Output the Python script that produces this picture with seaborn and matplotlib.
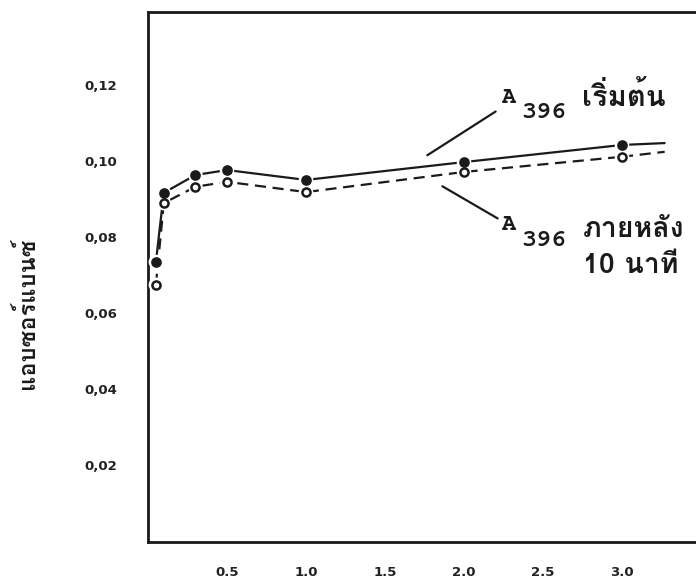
import matplotlib
matplotlib.use("Agg")
import matplotlib.pyplot as plt
from matplotlib import font_manager
from matplotlib.ft2font import FT2Font
import seaborn as sns
import pandas as pd

# ---------------- data ----------------
x_values = [0.05, 0.1, 0.3, 0.5, 1.0, 2.0, 3.0]
a396_start = [0.0734, 0.0916, 0.0963, 0.0976, 0.0950, 0.0997, 0.1042]
a396_after10 = [0.0674, 0.0889, 0.0932, 0.0945, 0.0918, 0.0971, 0.1011]
tail_x = [3.0, 3.27]
tail_start = [0.1042, 0.1047]
tail_after10 = [0.1011, 0.1024]
x_ticks = [0.5, 1.0, 1.5, 2.0, 2.5, 3.0]
x_ticklabels = ["0.5", "1.0", "1.5", "2.0", "2.5", "3.0"]
y_ticks = [0.02, 0.04, 0.06, 0.08, 0.10, 0.12]
y_ticklabels = ["0,02", "0,04", "0,06", "0,08", "0,10", "0,12"]
y_label = "แอบซอร์แบนซ์"
label_start = "เริ่มต้น"
label_after1 = "ภายหลัง"
label_after2 = "10 นาที"


def find_thai_fonts():
    found = []
    seen = set()
    for f in font_manager.fontManager.ttflist:
        if f.name in seen:
            continue
        try:
            cm = FT2Font(f.fname).get_charmap()
            if 0x0E40 in cm and 0x0E19 in cm:
                found.append(f.name)
                seen.add(f.name)
        except Exception:
            pass
    return found


thai_fonts = find_thai_fonts()
prefs = ["Tlwg Typewriter", "TlwgTypewriter", "Tlwg Typo", "TlwgTypo", "Tlwg Mono",
         "FreeMono", "Loma", "Noto Sans Thai", "Garuda", "Norasi",
         "Kinnari", "Waree", "Umpush", "Sawasdee", "Purisa"]
thai = None
for p in prefs:
    if p in thai_fonts:
        thai = p
        break
if thai is None and thai_fonts:
    thai = thai_fonts[0]
thai_family = [thai, "DejaVu Sans"] if thai else ["DejaVu Sans"]

sns.set_style("white")
plt.rcParams["font.family"] = thai_family

W, H = 696, 586
fig = plt.figure(figsize=(W / 100, H / 100), dpi=100)
ax = fig.add_axes([148 / W, 44 / H, 3.5 * 158 / W, 530 / H])

ink = "#1a1a1a"

df_start = pd.DataFrame({"x": x_values, "y": a396_start})
df_after = pd.DataFrame({"x": x_values, "y": a396_after10})
df_tail_s = pd.DataFrame({"x": tail_x, "y": tail_start})
df_tail_a = pd.DataFrame({"x": tail_x, "y": tail_after10})

sns.lineplot(data=df_start, x="x", y="y", ax=ax, color=ink, lw=1.6, zorder=2)
sns.lineplot(data=df_after, x="x", y="y", ax=ax, color=ink, lw=1.6,
             linestyle=(0, (5, 3)), zorder=2)
sns.lineplot(data=df_tail_s, x="x", y="y", ax=ax, color=ink, lw=1.6, zorder=2)
sns.lineplot(data=df_tail_a, x="x", y="y", ax=ax, color=ink, lw=1.6,
             linestyle=(0, (5, 3)), zorder=2)

sns.scatterplot(data=df_start, x="x", y="y", ax=ax, s=110, color="white",
                edgecolor="none", zorder=3)
sns.scatterplot(data=df_after, x="x", y="y", ax=ax, s=110, color="white",
                edgecolor="none", zorder=3)
sns.scatterplot(data=df_start, x="x", y="y", ax=ax, s=42, color=ink,
                edgecolor=ink, linewidth=1.2, zorder=4)
sns.scatterplot(data=df_after, x="x", y="y", ax=ax, s=34, color="white",
                edgecolor=ink, linewidth=1.8, zorder=4)

ax.set_xlim(0, 3.5)
ax.set_ylim(-0.0003, 0.1392)
ax.set_xticks(x_ticks)
ax.set_xticklabels(x_ticklabels)
ax.set_yticks(y_ticks)
ax.set_yticklabels(y_ticklabels)
ax.set_xlabel("")
ax.set_ylabel("")
for lab in ax.get_xticklabels() + ax.get_yticklabels():
    lab.set_fontsize(9.5)
    lab.set_fontweight("bold")
    lab.set_family(["DejaVu Sans"])
ax.tick_params(axis="y", direction="out", length=8, width=1.6, pad=14, colors=ink,
               labelcolor="#222222")
ax.tick_params(axis="x", direction="out", length=7, width=1.6, pad=10, colors=ink,
               labelcolor="#222222")
for side in ["left", "bottom", "top"]:
    ax.spines[side].set_visible(True)
    ax.spines[side].set_linewidth(2.0)
    ax.spines[side].set_color(ink)
ax.spines["right"].set_visible(False)

fig.text(27 / W, 1 - 313 / H, y_label, rotation=90, ha="center", va="center",
         fontsize=17, fontweight="bold", color=ink, family=thai_family)

mono = ["FreeMono", "Liberation Mono", "DejaVu Sans Mono"]
ax.annotate("", xy=(1.753, 0.1011), xytext=(2.215, 0.1134),
            arrowprops=dict(arrowstyle="-", color=ink, lw=1.6))
ax.annotate("", xy=(1.848, 0.0937), xytext=(2.228, 0.0845),
            arrowprops=dict(arrowstyle="-", color=ink, lw=1.6))
ax.text(2.240, 0.1153, "A", fontsize=17, fontweight="bold", family=mono,
        color=ink, va="baseline")
ax.text(2.362, 0.1113, "396", fontsize=18, fontweight="bold", family=mono,
        color=ink, va="baseline")
ax.text(2.747, 0.1145, label_start, fontsize=21, fontweight="bold",
        family=thai_family, color=ink, va="baseline")
ax.text(2.240, 0.0818, "A", fontsize=17, fontweight="bold", family=mono,
        color=ink, va="baseline")
ax.text(2.362, 0.0776, "396", fontsize=18, fontweight="bold", family=mono,
        color=ink, va="baseline")
ax.text(2.753, 0.0800, label_after1, fontsize=20.5, fontweight="bold",
        family=thai_family, color=ink, va="baseline")
ax.text(2.753, 0.0705, label_after2, fontsize=20.5, fontweight="bold",
        family=thai_family, color=ink, va="baseline")

fig.savefig("out.png", dpi=100)
